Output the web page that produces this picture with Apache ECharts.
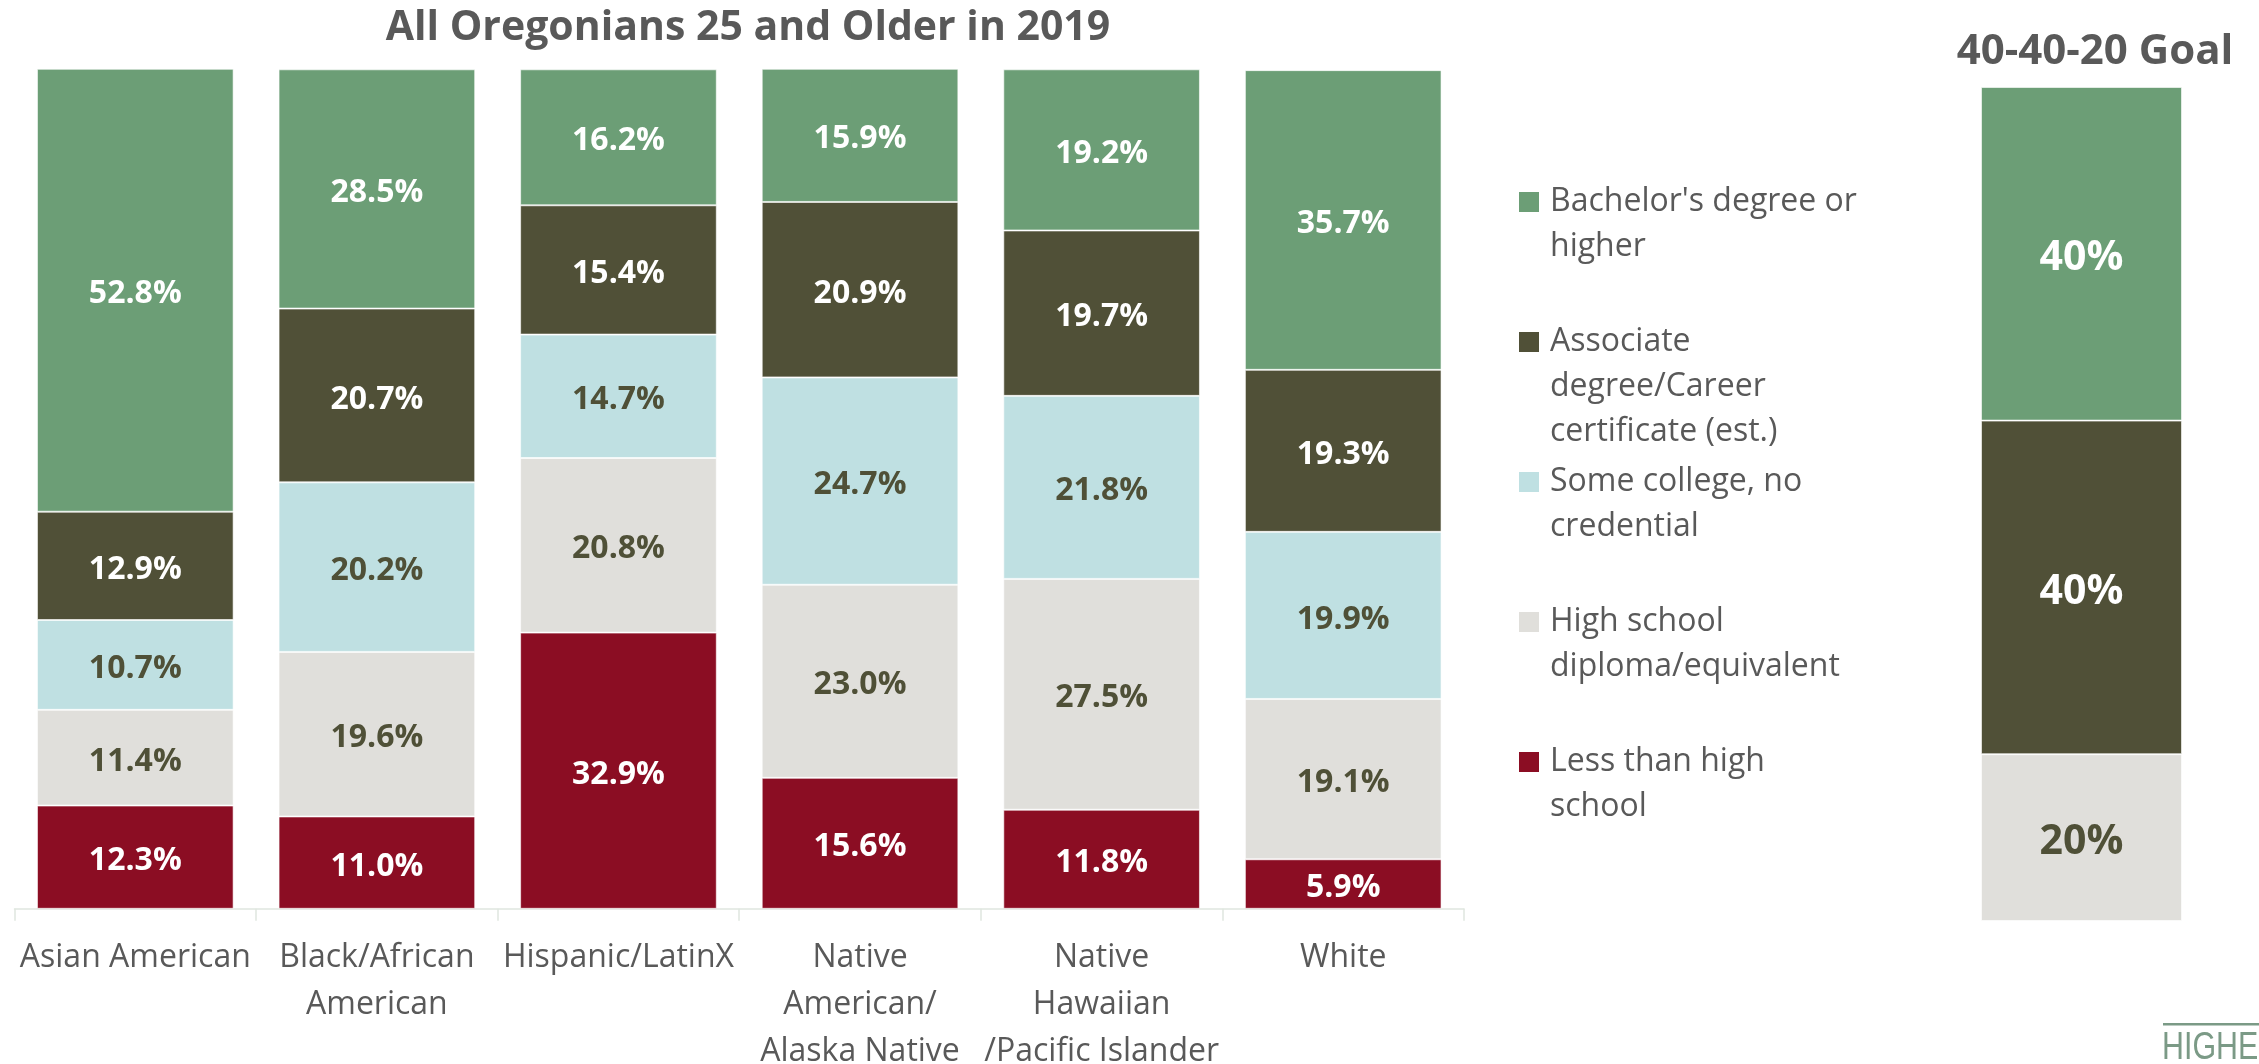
<!DOCTYPE html>
<html>
<head>
<meta charset="utf-8">
<script src="https://cdn.jsdelivr.net/npm/echarts@6/dist/echarts.min.js"></script>
<style>
html,body{margin:0;padding:0;background:#fff;}
#chart{width:2259px;height:1064px;}
</style>
</head>
<body>
<div id="chart"></div>
<script>
// ---- data ----
const categories = ['Asian American', 'Black/African\nAmerican', 'Hispanic/LatinX', 'Native\nAmerican/\nAlaska Native', 'Native\nHawaiian\n/Pacific Islander', 'White'];
const lessThanHighSchool = [12.3, 11.0, 32.9, 15.6, 11.8, 5.9];
const highSchool = [11.4, 19.6, 20.8, 23.0, 27.5, 19.1];
const someCollege = [10.7, 20.2, 14.7, 24.7, 21.8, 19.9];
const associate = [12.9, 20.7, 15.4, 20.9, 19.7, 19.3];
const bachelors = [52.8, 28.5, 16.2, 15.9, 19.2, 35.7];
const goalCategory = ['Goal'];
const goalHighSchool = [20];
const goalAssociate = [40];
const goalBachelors = [40];
const seriesNames = ["Bachelor's degree or higher", 'Associate degree/Career certificate (est.)', 'Some college, no credential', 'High school diploma/equivalent', 'Less than high school'];
const legendLabels = ["Bachelor's degree or\nhigher", 'Associate\ndegree/Career\ncertificate (est.)', 'Some college, no\ncredential', 'High school\ndiploma/equivalent', 'Less than high\nschool'];
const titleMain = 'All Oregonians 25 and Older in 2019';
const titleGoal = '40-40-20 Goal';

// ---- styles ----
const FONT = '"Open Sans", "Noto Sans", sans-serif';
const colors = {
  bach: '#6c9e76', assoc: '#505037', some: '#bfe0e2', hs: '#e0dfdb', less: '#8b0d23'
};
const GREY = '#595959';
const darkText = '#4f5037';

function segLabel(color, fmt) {
  return {
    show: true, position: 'inside', color: color,
    fontFamily: FONT, fontWeight: 'bold', fontSize: 32,
    offset: [0, 4],
    formatter: fmt
  };
}
const pct1 = p => p.value.toFixed(1) + '%';
const pct0 = p => p.value + '%';
const segBorder = { borderColor: 'rgba(255,255,255,0.6)', borderWidth: 1 };

function mainSeries(name, data, color, txtColor) {
  return {
    name: name, type: 'bar', stack: 'main', xAxisIndex: 0, yAxisIndex: 0,
    data: data, barCategoryGap: '18.6%',
    itemStyle: Object.assign({ color: color }, segBorder),
    label: segLabel(txtColor, pct1),
    emphasis: { disabled: true }
  };
}
function goalSeries(name, data, color, txtColor) {
  return {
    name: name, type: 'bar', stack: 'goal', xAxisIndex: 1, yAxisIndex: 1,
    data: data, barWidth: '100%',
    itemStyle: Object.assign({ color: color }, segBorder),
    label: Object.assign(segLabel(txtColor, pct0), { fontSize: 41, offset: [0, 5] }),
    emphasis: { disabled: true }
  };
}

// legend icon: square aligned with first text line
function iconPath(lines) {
  const h = lines * 45;
  return 'path://M0,12.5L20,12.5L20,32.5L0,32.5Z M0,0L0.01,0L0.01,0.01Z M0,' + h + 'L0.01,' + h + 'L0.01,' + (h - 0.01) + 'Z';
}
const legendFirstLineY = [202, 342, 482, 622, 762];
const legends = seriesNames.map((n, i) => {
  const lines = legendLabels[i].split('\n').length;
  return {
    data: [n], orient: 'vertical', left: 1519, top: legendFirstLineY[i] - 22.5,
    padding: 0, itemWidth: 20, itemHeight: lines * 45,
    icon: iconPath(lines),
    itemStyle: { borderWidth: 0 },
    selectedMode: false,
    formatter: () => legendLabels[i],
    textStyle: { fontFamily: FONT, fontSize: 32, lineHeight: 45, color: GREY, padding: [0, 0, 0, 6] }
  };
});

const option = {
  backgroundColor: '#ffffff',
  animation: false,
  legend: legends,
  grid: [
    { left: 14.5, top: 69.3, width: 1449.5, height: 839.5, containLabel: false, outerBoundsMode: 'none' },
    { left: 1981, top: 87, width: 201, height: 834, containLabel: false, outerBoundsMode: 'none' }
  ],
  xAxis: [
    {
      type: 'category', gridIndex: 0, data: categories,
      axisLine: { show: true, lineStyle: { color: '#dfe6df', width: 1.5 } },
      axisTick: { show: true, length: 12, lineStyle: { color: '#dfe6df', width: 1.5 } },
      axisLabel: { interval: 0, margin: 26, fontFamily: FONT, fontSize: 32, lineHeight: 46.7, color: GREY, hideOverlap: false }
    },
    {
      type: 'category', gridIndex: 1, data: goalCategory, show: false
    }
  ],
  yAxis: [
    { type: 'value', gridIndex: 0, min: 0, max: 100, show: false, splitLine: { show: false } },
    { type: 'value', gridIndex: 1, min: 0, max: 100, show: false, splitLine: { show: false } }
  ],
  series: [
    mainSeries(seriesNames[4], lessThanHighSchool, colors.less, '#ffffff'),
    mainSeries(seriesNames[3], highSchool, colors.hs, darkText),
    mainSeries(seriesNames[2], someCollege, colors.some, darkText),
    mainSeries(seriesNames[1], associate, colors.assoc, '#ffffff'),
    mainSeries(seriesNames[0], bachelors, colors.bach, '#ffffff'),
    goalSeries(seriesNames[3], goalHighSchool, colors.hs, darkText),
    goalSeries(seriesNames[1], goalAssociate, colors.assoc, '#ffffff'),
    goalSeries(seriesNames[0], goalBachelors, colors.bach, '#ffffff')
  ],
  graphic: [
    {
      type: 'text', x: 748, y: 28,
      style: { text: titleMain, fill: GREY, font: 'bold 41px ' + FONT, textAlign: 'center', textVerticalAlign: 'middle' }
    },
    {
      type: 'text', x: 2095, y: 52,
      style: { text: titleGoal, fill: GREY, font: 'bold 42px ' + FONT, textAlign: 'center', textVerticalAlign: 'middle' }
    },
    {
      type: 'rect', shape: { x: 2163, y: 1023, width: 96, height: 2.5 },
      style: { fill: '#7b9a86' }
    },
    {
      type: 'text', x: 2162, y: 1049, scaleX: 0.8,
      style: { text: 'HIGHE', fill: '#7b9a86', font: '38px "Liberation Sans", Arial, sans-serif', textAlign: 'left', textVerticalAlign: 'middle' }
    }
  ]
};

const chart = echarts.init(document.getElementById('chart'), null, { renderer: 'canvas' });
chart.setOption(option);
</script>
</body>
</html>
